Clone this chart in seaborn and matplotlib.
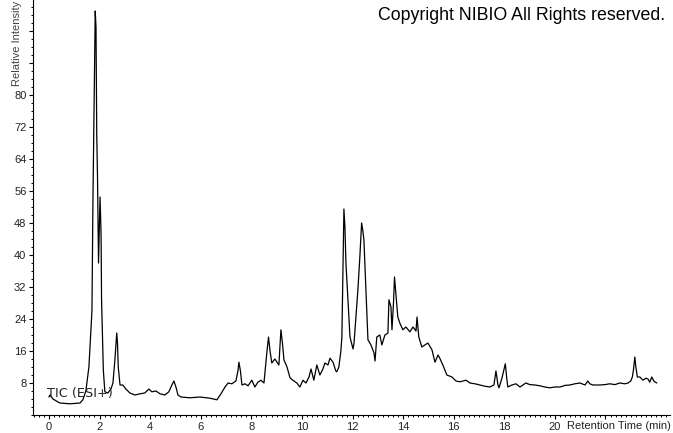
import numpy as np
import pandas as pd
import matplotlib
matplotlib.use("Agg")
import matplotlib.pyplot as plt
from matplotlib.ticker import MultipleLocator, FixedLocator
import seaborn as sns

# retention time (min) and relative intensity
rt = [0.00, 0.04, 0.16, 0.43, 0.83, 1.23, 1.34, 1.46, 1.58, 1.70,
      1.74, 1.79, 1.83, 1.86, 1.89, 1.92, 1.96, 2.02, 2.06, 2.08,
      2.15, 2.21, 2.33, 2.45, 2.53, 2.61, 2.68, 2.71, 2.74, 2.81,
      2.92, 3.04, 3.20, 3.40, 3.60, 3.79, 3.95, 4.07, 4.23, 4.39,
      4.58, 4.74, 4.86, 4.94, 5.02, 5.10, 5.22, 5.57, 5.97, 6.36,
      6.64, 6.80, 6.96, 7.08, 7.23, 7.39, 7.47, 7.51, 7.57, 7.63,
      7.75, 7.87, 8.02, 8.14, 8.26, 8.38, 8.50, 8.62, 8.68, 8.74,
      8.81, 8.93, 9.09, 9.17, 9.23, 9.29, 9.41, 9.53, 9.64, 9.80,
      9.92, 10.04, 10.16, 10.28, 10.36, 10.47, 10.59, 10.71, 10.83, 10.91,
      11.03, 11.11, 11.23, 11.34, 11.38, 11.46, 11.54, 11.58, 11.62, 11.66,
      11.70, 11.74, 11.82, 11.90, 11.98, 12.02, 12.06, 12.13, 12.21, 12.29,
      12.36, 12.41, 12.45, 12.53, 12.61, 12.73, 12.85, 12.89, 12.96, 13.08,
      13.16, 13.28, 13.40, 13.44, 13.52, 13.56, 13.62, 13.66, 13.72, 13.79,
      13.87, 13.99, 14.11, 14.27, 14.39, 14.51, 14.55, 14.62, 14.74, 14.86,
      14.98, 15.14, 15.26, 15.38, 15.45, 15.57, 15.73, 15.93, 16.09, 16.25,
      16.49, 16.64, 16.84, 17.04, 17.23, 17.43, 17.59, 17.67, 17.75, 17.79,
      17.91, 18.04, 18.10, 18.14, 18.30, 18.46, 18.62, 18.85, 19.01, 19.21,
      19.41, 19.60, 19.80, 20.00, 20.20, 20.40, 20.59, 20.79, 20.99, 21.19,
      21.30, 21.38, 21.50, 21.78, 21.98, 22.17, 22.37, 22.57, 22.77, 22.89,
      23.00, 23.06, 23.10, 23.16, 23.20, 23.26, 23.36, 23.48, 23.60, 23.68,
      23.75, 23.83, 23.91, 23.95, 24.03]
intensity = [4.5, 5.0, 4.0, 3.0, 2.8, 3.0, 3.8, 6.0, 12, 26,
             54, 79, 101, 97, 70, 59.5, 38, 54.5, 45.5, 28.8,
             11.3, 5.8, 5.5, 6.5, 8.0, 14, 20.5, 18, 12, 7.5,
             7.5, 6.5, 5.5, 5.0, 5.3, 5.5, 6.5, 5.8, 6.0, 5.3,
             5.0, 5.8, 7.5, 8.5, 7.0, 5.0, 4.5, 4.3, 4.5, 4.2,
             3.8, 5.3, 7.0, 8.0, 7.8, 8.5, 11, 13.2, 11, 7.5,
             7.8, 7.3, 8.7, 7.0, 8.2, 8.7, 8.0, 16, 19.5, 16,
             13, 14, 12.5, 21.3, 18, 13.8, 12, 9.3, 8.7, 8.0,
             7.0, 8.7, 8.0, 9.5, 11.5, 8.7, 12.5, 10, 11.5, 13,
             12.5, 14.2, 13.2, 11, 10.8, 12, 16, 19.5, 35, 51.5,
             47, 38, 28.8, 19.5, 17.5, 16.5, 18, 24, 31, 39.5,
             48, 46, 43.8, 31, 18.8, 17.5, 15.5, 13.5, 19.5, 20,
             17.5, 20, 20.5, 28.8, 27, 21.3, 28, 34.5, 30, 24.5,
             23, 21.3, 22, 20.8, 22, 21, 24.5, 19.5, 17, 17.5,
             18, 16.3, 13.2, 15, 14.2, 12.5, 10, 9.5, 8.5, 8.3,
             8.7, 8.0, 7.8, 7.5, 7.2, 7.0, 7.5, 11, 7.5, 6.8,
             9.3, 12.8, 9, 7.0, 7.5, 7.8, 7.0, 8.0, 7.6, 7.5,
             7.3, 7.0, 6.8, 7.0, 7.0, 7.4, 7.5, 7.8, 8.0, 7.5,
             8.5, 7.8, 7.5, 7.5, 7.6, 7.8, 7.6, 8.0, 7.8, 8.0,
             8.5, 9.5, 11, 14.5, 12, 9.5, 9.5, 8.7, 9.2, 9.0,
             8.2, 9.5, 8.5, 8.3, 8.0]

x_ticks = list(range(0, 24, 2))
x_labels = [str(t) for t in range(0, 22, 2)] + [""]
y_ticks = list(range(8, 100, 8))
y_labels = [str(v) for v in range(8, 88, 8)] + ["", ""]

df = pd.DataFrame({"rt": rt, "intensity": intensity})

sns.set_style("ticks")
plt.rcParams["font.family"] = ["Liberation Sans", "DejaVu Sans"]

fig = plt.figure(figsize=(6.73, 4.33), dpi=100)
ax = fig.add_axes([33 / 673, 18 / 433, 637 / 673, 415 / 433])

sns.lineplot(data=df, x="rt", y="intensity", ax=ax, color="black",
             linewidth=0.9, estimator=None, sort=False)

ax.set_xlim(-0.63, 24.55)
ax.set_ylim(0, 103.75)
ax.xaxis.set_major_locator(FixedLocator(x_ticks))
ax.set_xticklabels(x_labels)
ax.xaxis.set_minor_locator(MultipleLocator(0.2))
ax.yaxis.set_major_locator(FixedLocator(y_ticks))
ax.set_yticklabels(y_labels)
ax.yaxis.set_minor_locator(MultipleLocator(2))
ax.tick_params(which="major", length=3.2, width=0.8, color="black",
               labelsize=8, labelcolor="#222222", pad=1.5)
ax.tick_params(which="minor", length=1.6, width=0.7, color="black")
ax.set_xlabel("")
ax.set_ylabel("")
sns.despine(ax=ax)
for s in ["left", "bottom"]:
    ax.spines[s].set_color("black")
    ax.spines[s].set_linewidth(0.8)

ax.text(-0.08, 5.5, "TIC (ESI+)", family=["DejaVu Sans"], fontsize=9.3,
        color="#222222", va="center", ha="left")

fig.text(671 / 673, 7 / 433, "Retention Time (min)", fontsize=8,
         color="#222222", ha="right", va="center")
fig.text(17 / 673, 1 - 1 / 433, "Relative Intensity", fontsize=8,
         color="#444444", rotation=90, ha="center", va="top")
fig.text(665 / 673, 1 - 15 / 433, "Copyright NIBIO All Rights reserved.",
         fontsize=12.8, color="black", ha="right", va="center")

fig.savefig("out.png", dpi=100)
